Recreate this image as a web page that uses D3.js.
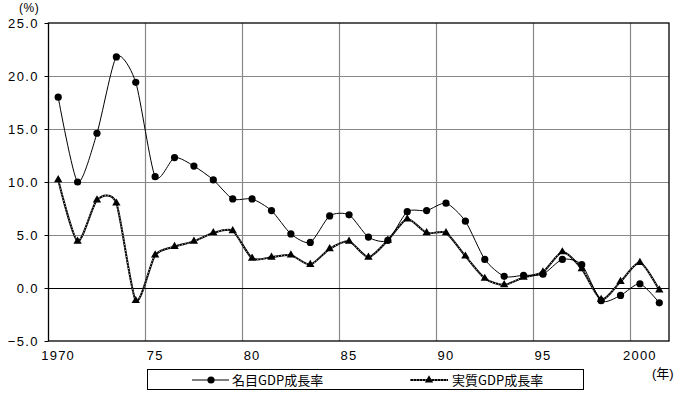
<!DOCTYPE html>
<html><head><meta charset="utf-8">
<script src="https://cdn.jsdelivr.net/npm/d3@7"></script>
<style>
html,body{margin:0;padding:0;background:#fff;}
svg{display:block;}
text{font-family:"Liberation Sans","Noto Sans CJK JP",sans-serif;fill:#000;}
</style></head>
<body><svg id="c" width="677" height="393"></svg>
<script>
const years = d3.range(1970, 2002);
const xTickLabels = {1970:"1970",1975:"75",1980:"80",1985:"85",1990:"90",1995:"95",2000:"2000"};
const yTicks = [-5, 0, 5, 10, 15, 20, 25];
const nominal = [18.0, 10.0, 14.6, 21.8, 19.4, 10.5, 12.3, 11.5, 10.2, 8.4, 8.4, 7.3, 5.1, 4.3, 6.8, 6.9, 4.8, 4.5, 7.2, 7.3, 8.0, 6.3, 2.7, 1.1, 1.2, 1.3, 2.7, 2.2, -1.2, -0.7, 0.4, -1.4];
const real = [10.2, 4.4, 8.3, 8.0, -1.2, 3.1, 3.9, 4.4, 5.2, 5.4, 2.8, 2.9, 3.1, 2.2, 3.7, 4.4, 2.9, 4.5, 6.5, 5.2, 5.2, 3.0, 0.9, 0.3, 1.0, 1.5, 3.4, 1.8, -1.1, 0.6, 2.4, -0.2];
const seriesNames = ["名目GDP成長率", "実質GDP成長率"];

const svg = d3.select("#c");
const L = 48.5, R = 669, T = 23, B = 341;
const x = d3.scaleBand().domain(years).range([L, R]);
const cx = d => x(d) + x.bandwidth() / 2;
const y = d3.scaleLinear().domain([-5, 25]).range([B, T]);

svg.append("g").selectAll("line").data(yTicks.filter(v => v !== 0 && v !== 25 && v !== -5)).join("line")
  .attr("x1", L).attr("x2", R).attr("y1", d => y(d) + 0.5).attr("y2", d => y(d) + 0.5)
  .attr("stroke", "#888").attr("stroke-width", 1.2);
svg.append("g").selectAll("line").data([1975, 1980, 1985, 1990, 1995, 2000]).join("line")
  .attr("x1", d => Math.round(x(d)) + 0.5).attr("x2", d => Math.round(x(d)) + 0.5).attr("y1", T).attr("y2", B)
  .attr("stroke", "#888").attr("stroke-width", 1.2);
svg.append("line").attr("x1", L).attr("x2", R).attr("y1", y(0) + 0.5).attr("y2", y(0) + 0.5)
  .attr("stroke", "#000").attr("stroke-width", 1.2);
svg.append("rect").attr("x", L).attr("y", T).attr("width", R - L).attr("height", B - T)
  .attr("fill", "none").attr("stroke", "#000").attr("stroke-width", 1.3);
svg.append("g").selectAll("line").data(yTicks).join("line")
  .attr("x1", L - 4).attr("x2", L).attr("y1", d => y(d) + 0.5).attr("y2", d => y(d) + 0.5)
  .attr("stroke", "#000");

svg.append("g").selectAll("text").data(yTicks).join("text")
  .attr("x", 39).attr("y", d => y(d) + 5).attr("text-anchor", "end")
  .style("font-size", "13px").style("letter-spacing", "1.4px")
  .text(d => d.toFixed(1).replace("-", "−"));
svg.append("text").attr("x", 19).attr("y", 12).style("font-size", "12px").style("letter-spacing", "0.5px").text("(%)");

svg.append("g").selectAll("text").data(Object.keys(xTickLabels).map(Number)).join("text")
  .attr("x", d => cx(d)).attr("y", 360).attr("text-anchor", "middle")
  .style("font-size", "13px").style("letter-spacing", "1.2px")
  .text(d => xTickLabels[d]);
svg.append("text").attr("x", 652).attr("y", 378).style("font-size", "13px").text("(年)");

const line = d3.line().x((d, i) => cx(years[i])).y(d => y(d)).curve(d3.curveCardinal.tension(0.3));

function realLine(g, path) {
  g.append("path").attr("d", path).attr("fill", "none").attr("stroke", "#000").attr("stroke-width", 2);
  g.append("path").attr("d", path).attr("fill", "none").attr("stroke", "#fff").attr("stroke-width", 0.8)
    .attr("stroke-dasharray", "1,2");
}
const tri = d3.symbol().type(d3.symbolTriangle).size(30);

const gR = svg.append("g");
realLine(gR, line(real));
gR.selectAll("path.m").data(real).join("path").attr("class", "m")
  .attr("d", tri).attr("transform", (d, i) => `translate(${cx(years[i])},${y(d)})`).attr("fill", "#000");

const gN = svg.append("g");
gN.append("path").attr("d", line(nominal)).attr("fill", "none").attr("stroke", "#000").attr("stroke-width", 1);
gN.selectAll("circle").data(nominal).join("circle")
  .attr("cx", (d, i) => cx(years[i])).attr("cy", d => y(d)).attr("r", 3.6).attr("fill", "#000");

const lg = svg.append("g");
lg.append("rect").attr("x", 147.5).attr("y", 369.5).attr("width", 436).attr("height", 20)
  .attr("fill", "#fff").attr("stroke", "#000").attr("stroke-width", 1);
lg.append("line").attr("x1", 192).attr("x2", 229).attr("y1", 380).attr("y2", 380).attr("stroke", "#000");
lg.append("circle").attr("cx", 211).attr("cy", 380).attr("r", 3.6).attr("fill", "#000");
lg.append("text").attr("x", 232).attr("y", 385).style("font-size", "13px").style("font-family", "'Noto Sans CJK JP',sans-serif").text(seriesNames[0]);
realLine(lg, "M410,380L448,380");
lg.append("path").attr("d", tri).attr("transform", "translate(429,380)").attr("fill", "#000");
lg.append("text").attr("x", 452).attr("y", 385).style("font-size", "13px").style("font-family", "'Noto Sans CJK JP',sans-serif").text(seriesNames[1]);
</script></body></html>
